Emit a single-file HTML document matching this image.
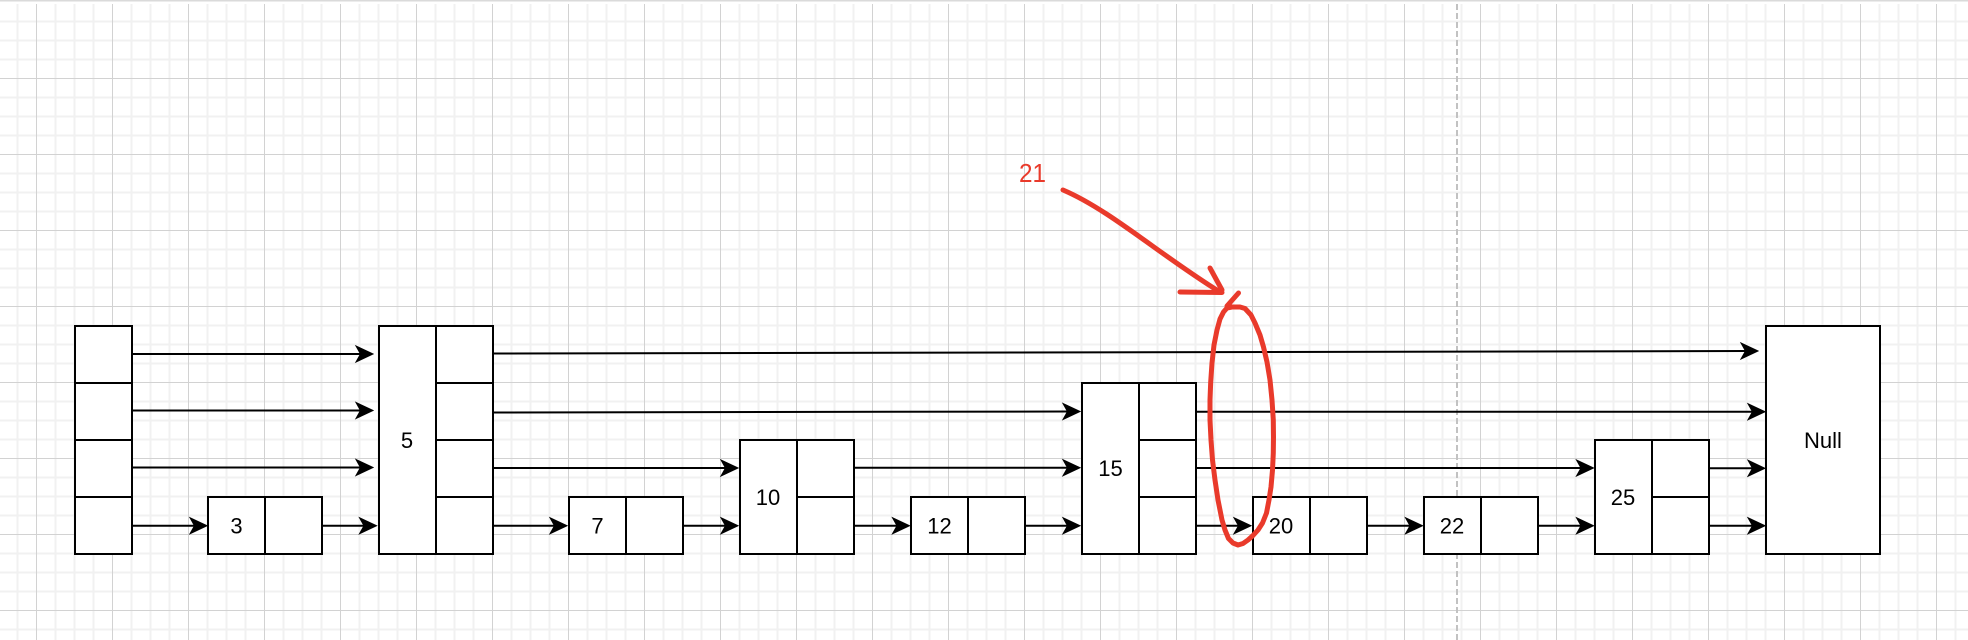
<!DOCTYPE html>
<html>
<head>
<meta charset="utf-8">
<style>
  html, body { margin: 0; padding: 0; background: #ffffff; }
  body { width: 1968px; height: 640px; overflow: hidden; }
  svg { display: block; }
  text { font-family: "Liberation Sans", Arial, sans-serif; }
</style>
</head>
<body>
<svg width="1968" height="640" viewBox="0 0 1968 640" xmlns="http://www.w3.org/2000/svg">
  <defs>
    <pattern id="grid" patternUnits="userSpaceOnUse" x="-1.5" y="-35.5" width="76" height="76">
      <rect x="0" y="0" width="76" height="76" fill="#ffffff"/>
      <!-- minor vertical -->
      <rect x="0" y="0" width="1" height="76" fill="#f1f1f1"/>
      <rect x="75" y="0" width="1" height="76" fill="#f1f1f1"/>
      <rect x="18" y="0" width="2" height="76" fill="#f1f1f1"/>
      <rect x="56" y="0" width="2" height="76" fill="#f1f1f1"/>
      <!-- minor horizontal -->
      <rect x="0" y="0" width="76" height="1" fill="#f1f1f1"/>
      <rect x="0" y="75" width="76" height="1" fill="#f1f1f1"/>
      <rect x="0" y="18" width="76" height="2" fill="#f1f1f1"/>
      <rect x="0" y="56" width="76" height="2" fill="#f1f1f1"/>
      <!-- major -->
      <rect x="37.5" y="0" width="1" height="76" fill="#d2d2d2"/>
      <rect x="0" y="37.5" width="76" height="1" fill="#d2d2d2"/>
    </pattern>
  </defs>

  <!-- background grid -->
  <rect x="0" y="0" width="1968" height="640" fill="url(#grid)"/>
  <rect x="0" y="0" width="1968" height="4" fill="#ffffff"/>
  <rect x="0" y="0" width="1968" height="1.5" fill="#dadada"/>

  <!-- dashed page break -->
  <line x1="1457" y1="4" x2="1457" y2="640" stroke="#c2c2c2" stroke-width="2" stroke-dasharray="6 3"/>

  <!-- connectors -->
  <g stroke="#000" stroke-width="2" fill="none">
    <!-- level A -->
    <line x1="132" y1="354" x2="361" y2="354"/>
    <line x1="493" y1="353.5" x2="1746" y2="351"/>
    <!-- level B -->
    <line x1="132" y1="410.5" x2="361" y2="410.5"/>
    <line x1="493" y1="412.5" x2="1068" y2="411.5"/>
    <line x1="1196" y1="411.7" x2="1753" y2="411.7"/>
    <!-- level C -->
    <line x1="132" y1="467.5" x2="361" y2="467.5"/>
    <line x1="493" y1="468" x2="726" y2="468"/>
    <line x1="854" y1="467.7" x2="1068" y2="467.7"/>
    <line x1="1196" y1="468" x2="1581" y2="468"/>
    <line x1="1709" y1="468.3" x2="1753" y2="468.3"/>
    <!-- level D -->
    <line x1="132" y1="525.7" x2="195" y2="525.7"/>
    <line x1="322" y1="525.7" x2="364" y2="525.7"/>
    <line x1="493" y1="525.7" x2="555" y2="525.7"/>
    <line x1="683" y1="525.7" x2="726" y2="525.7"/>
    <line x1="854" y1="525.7" x2="897" y2="525.7"/>
    <line x1="1025" y1="525.7" x2="1068" y2="525.7"/>
    <line x1="1196" y1="525.7" x2="1239" y2="525.7"/>
    <line x1="1367" y1="525.7" x2="1410" y2="525.7"/>
    <line x1="1538" y1="525.7" x2="1581" y2="525.7"/>
    <line x1="1709" y1="525.7" x2="1753" y2="525.7"/>
  </g>

  <!-- arrowheads: tip (t,y) -->
  <g fill="#000" stroke="#000" stroke-width="1" stroke-linejoin="miter">
    <!-- level A -->
    <polygon points="373,354 356,346 360.5,354 356,362"/>
    <polygon points="1758,351 1741,343 1745.5,351 1741,359"/>
    <!-- level B -->
    <polygon points="373,410.5 356,402.5 360.5,410.5 356,418.5"/>
    <polygon points="1080,411.5 1063,403.5 1067.5,411.5 1063,419.5"/>
    <polygon points="1765,411.7 1748,403.7 1752.5,411.7 1748,419.7"/>
    <!-- level C -->
    <polygon points="373,467.5 356,459.5 360.5,467.5 356,475.5"/>
    <polygon points="738,468 721,460 725.5,468 721,476"/>
    <polygon points="1080,467.7 1063,459.7 1067.5,467.7 1063,475.7"/>
    <polygon points="1593.5,468 1576.5,460 1581,468 1576.5,476"/>
    <polygon points="1765,468.3 1748,460.3 1752.5,468.3 1748,476.3"/>
    <!-- level D -->
    <polygon points="207,525.7 190,517.7 194.5,525.7 190,533.7"/>
    <polygon points="376.5,525.7 359.5,517.7 364,525.7 359.5,533.7"/>
    <polygon points="567,525.7 550,517.7 554.5,525.7 550,533.7"/>
    <polygon points="738,525.7 721,517.7 725.5,525.7 721,533.7"/>
    <polygon points="909.5,525.7 892.5,517.7 897,525.7 892.5,533.7"/>
    <polygon points="1080,525.7 1063,517.7 1067.5,525.7 1063,533.7"/>
    <polygon points="1251,525.7 1234,517.7 1238.5,525.7 1234,533.7"/>
    <polygon points="1422.5,525.7 1405.5,517.7 1410,525.7 1405.5,533.7"/>
    <polygon points="1593.5,525.7 1576.5,517.7 1581,525.7 1576.5,533.7"/>
    <polygon points="1765,525.7 1748,517.7 1752.5,525.7 1748,533.7"/>
  </g>

  <!-- nodes -->
  <g fill="#ffffff" stroke="#000" stroke-width="2">
    <!-- head column -->
    <rect x="75" y="326" width="57" height="228"/>
    <line x1="75" y1="383" x2="132" y2="383"/>
    <line x1="75" y1="440" x2="132" y2="440"/>
    <line x1="75" y1="497" x2="132" y2="497"/>

    <!-- 3 -->
    <rect x="208" y="497" width="114" height="57"/>
    <line x1="265" y1="497" x2="265" y2="554"/>

    <!-- 5 -->
    <rect x="379" y="326" width="114" height="228"/>
    <line x1="436" y1="326" x2="436" y2="554"/>
    <line x1="436" y1="383" x2="493" y2="383"/>
    <line x1="436" y1="440" x2="493" y2="440"/>
    <line x1="436" y1="497" x2="493" y2="497"/>

    <!-- 7 -->
    <rect x="569" y="497" width="114" height="57"/>
    <line x1="626" y1="497" x2="626" y2="554"/>

    <!-- 10 -->
    <rect x="740" y="440" width="114" height="114"/>
    <line x1="797" y1="440" x2="797" y2="554"/>
    <line x1="797" y1="497" x2="854" y2="497"/>

    <!-- 12 -->
    <rect x="911" y="497" width="114" height="57"/>
    <line x1="968" y1="497" x2="968" y2="554"/>

    <!-- 15 -->
    <rect x="1082" y="383" width="114" height="171"/>
    <line x1="1139" y1="383" x2="1139" y2="554"/>
    <line x1="1139" y1="440" x2="1196" y2="440"/>
    <line x1="1139" y1="497" x2="1196" y2="497"/>

    <!-- 20 -->
    <rect x="1253" y="497" width="114" height="57"/>
    <line x1="1310" y1="497" x2="1310" y2="554"/>

    <!-- 22 -->
    <rect x="1424" y="497" width="114" height="57"/>
    <line x1="1481" y1="497" x2="1481" y2="554"/>

    <!-- 25 -->
    <rect x="1595" y="440" width="114" height="114"/>
    <line x1="1652" y1="440" x2="1652" y2="554"/>
    <line x1="1652" y1="497" x2="1709" y2="497"/>

    <!-- Null -->
    <rect x="1766" y="326" width="114" height="228"/>
  </g>

  <!-- labels -->
  <g font-size="22" fill="#000" text-anchor="middle">
    <text x="236.5" y="533.5">3</text>
    <text x="407" y="448">5</text>
    <text x="597.5" y="533.5">7</text>
    <text x="768" y="505">10</text>
    <text x="939.5" y="533.5">12</text>
    <text x="1110.5" y="476">15</text>
    <text x="1281" y="533.5">20</text>
    <text x="1452" y="533.5">22</text>
    <text x="1623" y="505">25</text>
    <text x="1823" y="448">Null</text>
  </g>

  <!-- red annotation -->
  <text x="1019" y="182" font-size="26" fill="#e93a2b" textLength="27" lengthAdjust="spacingAndGlyphs">21</text>
  <g stroke="#e93a2b" stroke-width="5" fill="none" stroke-linecap="round" stroke-linejoin="round">
    <path d="M1063,190 C1110,210 1160,255 1220,292"/>
    <path d="M1180,292 L1222,292.5"/>
    <path d="M1210,268 L1222,290"/>
    <path d="M1238.5,293 L1227,306 L1232,307 L1240,307 L1245,308.5 L1251,315 L1255,323 L1260,335 L1263.5,347 L1267,362 L1270,380 L1272,400 L1273.3,420 L1273.5,437 L1273.3,453 L1272.5,470 L1271,487 L1269,500 L1266.5,513 L1262.5,523 L1258,530 L1253,535.5 L1248,540 L1243,543.5 L1238,545 L1233,543 L1228.5,538.5 L1225,530 L1222,520 L1218,500 L1215,480 L1212.5,460 L1211,440 L1210,420 L1210,400 L1210.7,382 L1212,363 L1214,345 L1217,330 L1220,319 L1223.5,312 L1227,308 L1232,307"/>
  </g>
</svg>
</body>
</html>
